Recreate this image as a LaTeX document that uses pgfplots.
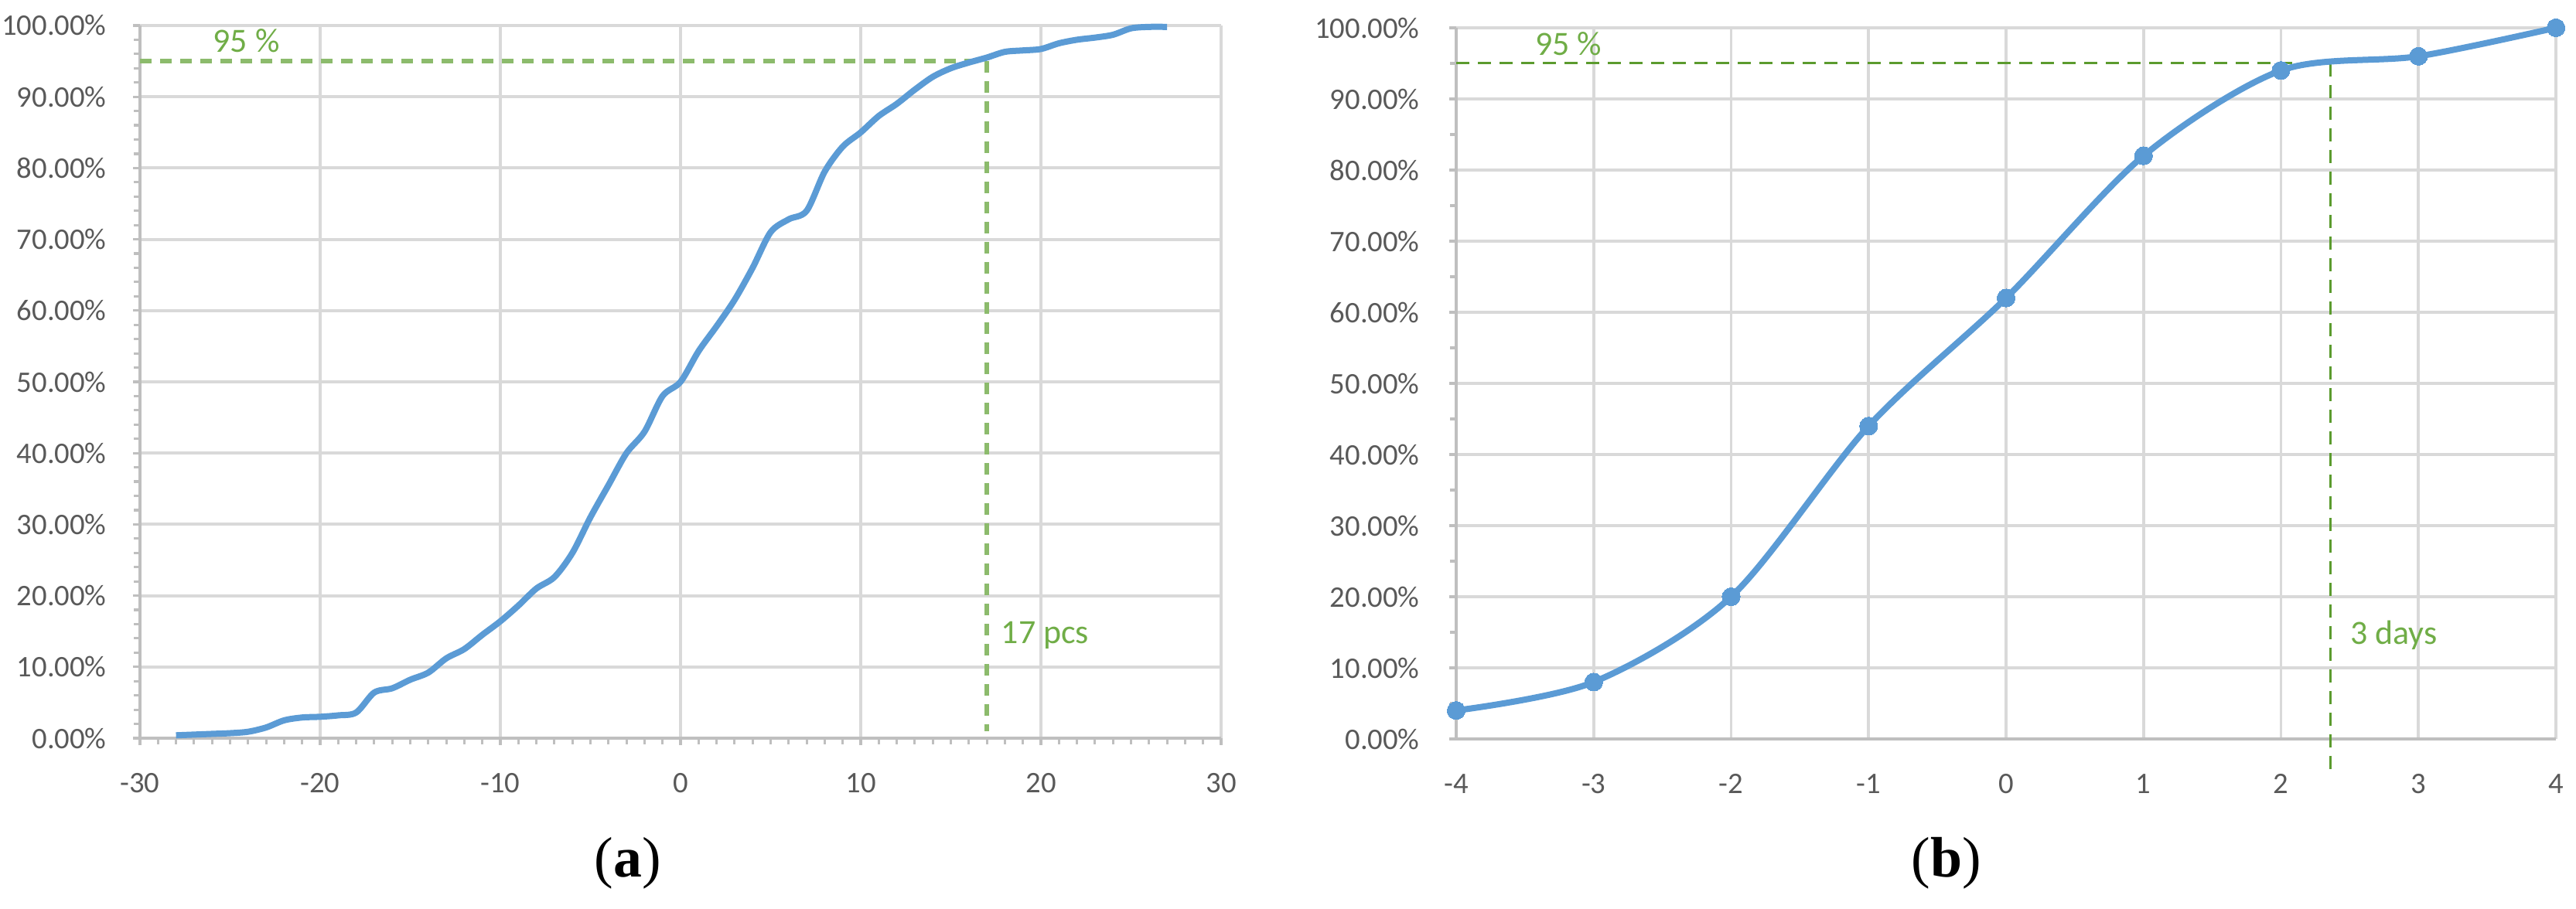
\documentclass[border=0pt]{standalone}
\usepackage{fontspec}
\setmainfont{Carlito}
\newfontfamily\capfont{Liberation Serif}
\usepackage{pgfplots}
\pgfplotsset{compat=1.18}
\definecolor{xblue}{HTML}{5B9BD5}
\definecolor{xgrid}{HTML}{D9D9D9}
\definecolor{xaxis}{HTML}{BFBFBF}
\definecolor{xtext}{HTML}{595959}
\definecolor{xgreenA}{HTML}{8CBB6C}
\definecolor{xgreenB}{HTML}{5B9B2E}
\definecolor{xgreenT}{HTML}{70AD47}
\pgfplotsset{
  excel/.style={
    scale only axis,
    clip=false,
    axis lines*=left,
    axis line style={xaxis, line width=1pt},
    grid=major,
    major grid style={xgrid, line width=1.1pt},
    tick align=outside,
    major tick length=0.09cm,
    minor tick length=0.08cm,
    tick style={xaxis, line width=0.9pt},
    ymin=0, ymax=100,
    ytick={0,10,...,100},
    /pgf/number format/assume math mode=true,
    yticklabel={\pgfmathprintnumber[fixed,fixed zerofill,precision=2,assume math mode=true]{\tick}\%},
    tick label style={font=\fontsize{11}{13}\selectfont, text=xtext},
    xticklabel style={yshift=-0.24cm},
  }
}
\begin{document}
\begin{tikzpicture}
\path[use as bounding box] (0,0) rectangle (33.31cm,11.76cm);
% ---------- (a) ----------
\begin{axis}[excel, at={(1.81cm,2.21cm)}, anchor=south west,
  width=13.98cm, height=9.22cm,
  xmin=-30, xmax=30, xtick={-30,-20,...,30},
  minor x tick num=9, minor y tick num=4,
  yticklabel style={xshift=-0.22cm}]
\addplot[xgreenA, line width=0.06cm, dash pattern=on 0.15cm off 0.11cm] coordinates {(-30,95) (17,95)};
\addplot[xgreenA, line width=0.06cm, dash pattern=on 0.15cm off 0.11cm] coordinates {(17,95) (17,1)};
\addplot[xblue, line width=0.08cm, smooth] coordinates {
(-28,0.4) (-27,0.5) (-26,0.6) (-25,0.7) (-24,0.9) (-23,1.5) (-22,2.5) (-21,2.9)
(-20,3.0) (-19,3.2) (-18,3.6) (-17,6.4) (-16,7.0) (-15,8.2) (-14,9.2) (-13,11.2)
(-12,12.5) (-11,14.5) (-10,16.4) (-9,18.6) (-8,21.0) (-7,22.6) (-6,26.0) (-5,31.0)
(-4,35.5) (-3,40.0) (-2,43.0) (-1,48.0) (0,50.0) (1,54.3) (2,57.8) (3,61.5)
(4,66.0) (5,71.0) (6,72.8) (7,74.0) (8,79.5) (9,83.0) (10,85.0) (11,87.3)
(12,89.0) (13,91.0) (14,92.8) (15,94.0) (16,94.8) (17,95.5) (18,96.3) (19,96.5)
(20,96.7) (21,97.5) (22,98.0) (23,98.3) (24,98.7) (25,99.6) (26,99.8) (27,99.8)};
\node[anchor=west, inner sep=0pt, text=xgreenT, font=\fontsize{12.5}{14}\selectfont] at (axis cs:-25.97,97.9) {95 \%};
\node[anchor=west, inner sep=0pt, text=xgreenT, font=\fontsize{12.5}{14}\selectfont] at (axis cs:17.77,14.4) {17 pcs};
\end{axis}
% ---------- (b) ----------
\begin{axis}[excel, at={(18.83cm,2.20cm)}, anchor=south west,
  width=14.22cm, height=9.20cm,
  xmin=-4, xmax=4, xtick={-4,-3,...,4},
  minor y tick num=1, xtick style={draw=none},
  yticklabel style={xshift=-0.26cm}]
\addplot[xgreenB, line width=0.03cm, dash pattern=on 0.17cm off 0.11cm] coordinates {(-4,95) (2.36,95)};
\addplot[xgreenB, line width=0.03cm, dash pattern=on 0.17cm off 0.11cm] coordinates {(2.36,95) (2.36,-4.9)};
\addplot[xblue, line width=0.08cm, smooth, mark=*, mark size=3.3pt,
  mark options={solid, fill=xblue, draw=xblue, line width=0pt}] coordinates {
(-4,4) (-3,8) (-2,20) (-1,44) (0,62) (1,82) (2,94) (3,96) (4,100)};
\node[anchor=west, inner sep=0pt, text=xgreenT, font=\fontsize{12.5}{14}\selectfont] at (axis cs:-3.43,97.8) {95 \%};
\node[anchor=west, inner sep=0pt, text=xgreenT, font=\fontsize{12.5}{14}\selectfont] at (axis cs:2.50,14.6) {3 days};
\end{axis}
\node[font=\capfont\fontsize{21}{24}\selectfont] at (8.12cm,0.59cm) {(\textbf{a})};
\node[font=\capfont\fontsize{21}{24}\selectfont] at (25.17cm,0.59cm) {(\textbf{b})};
\end{tikzpicture}
\end{document}
